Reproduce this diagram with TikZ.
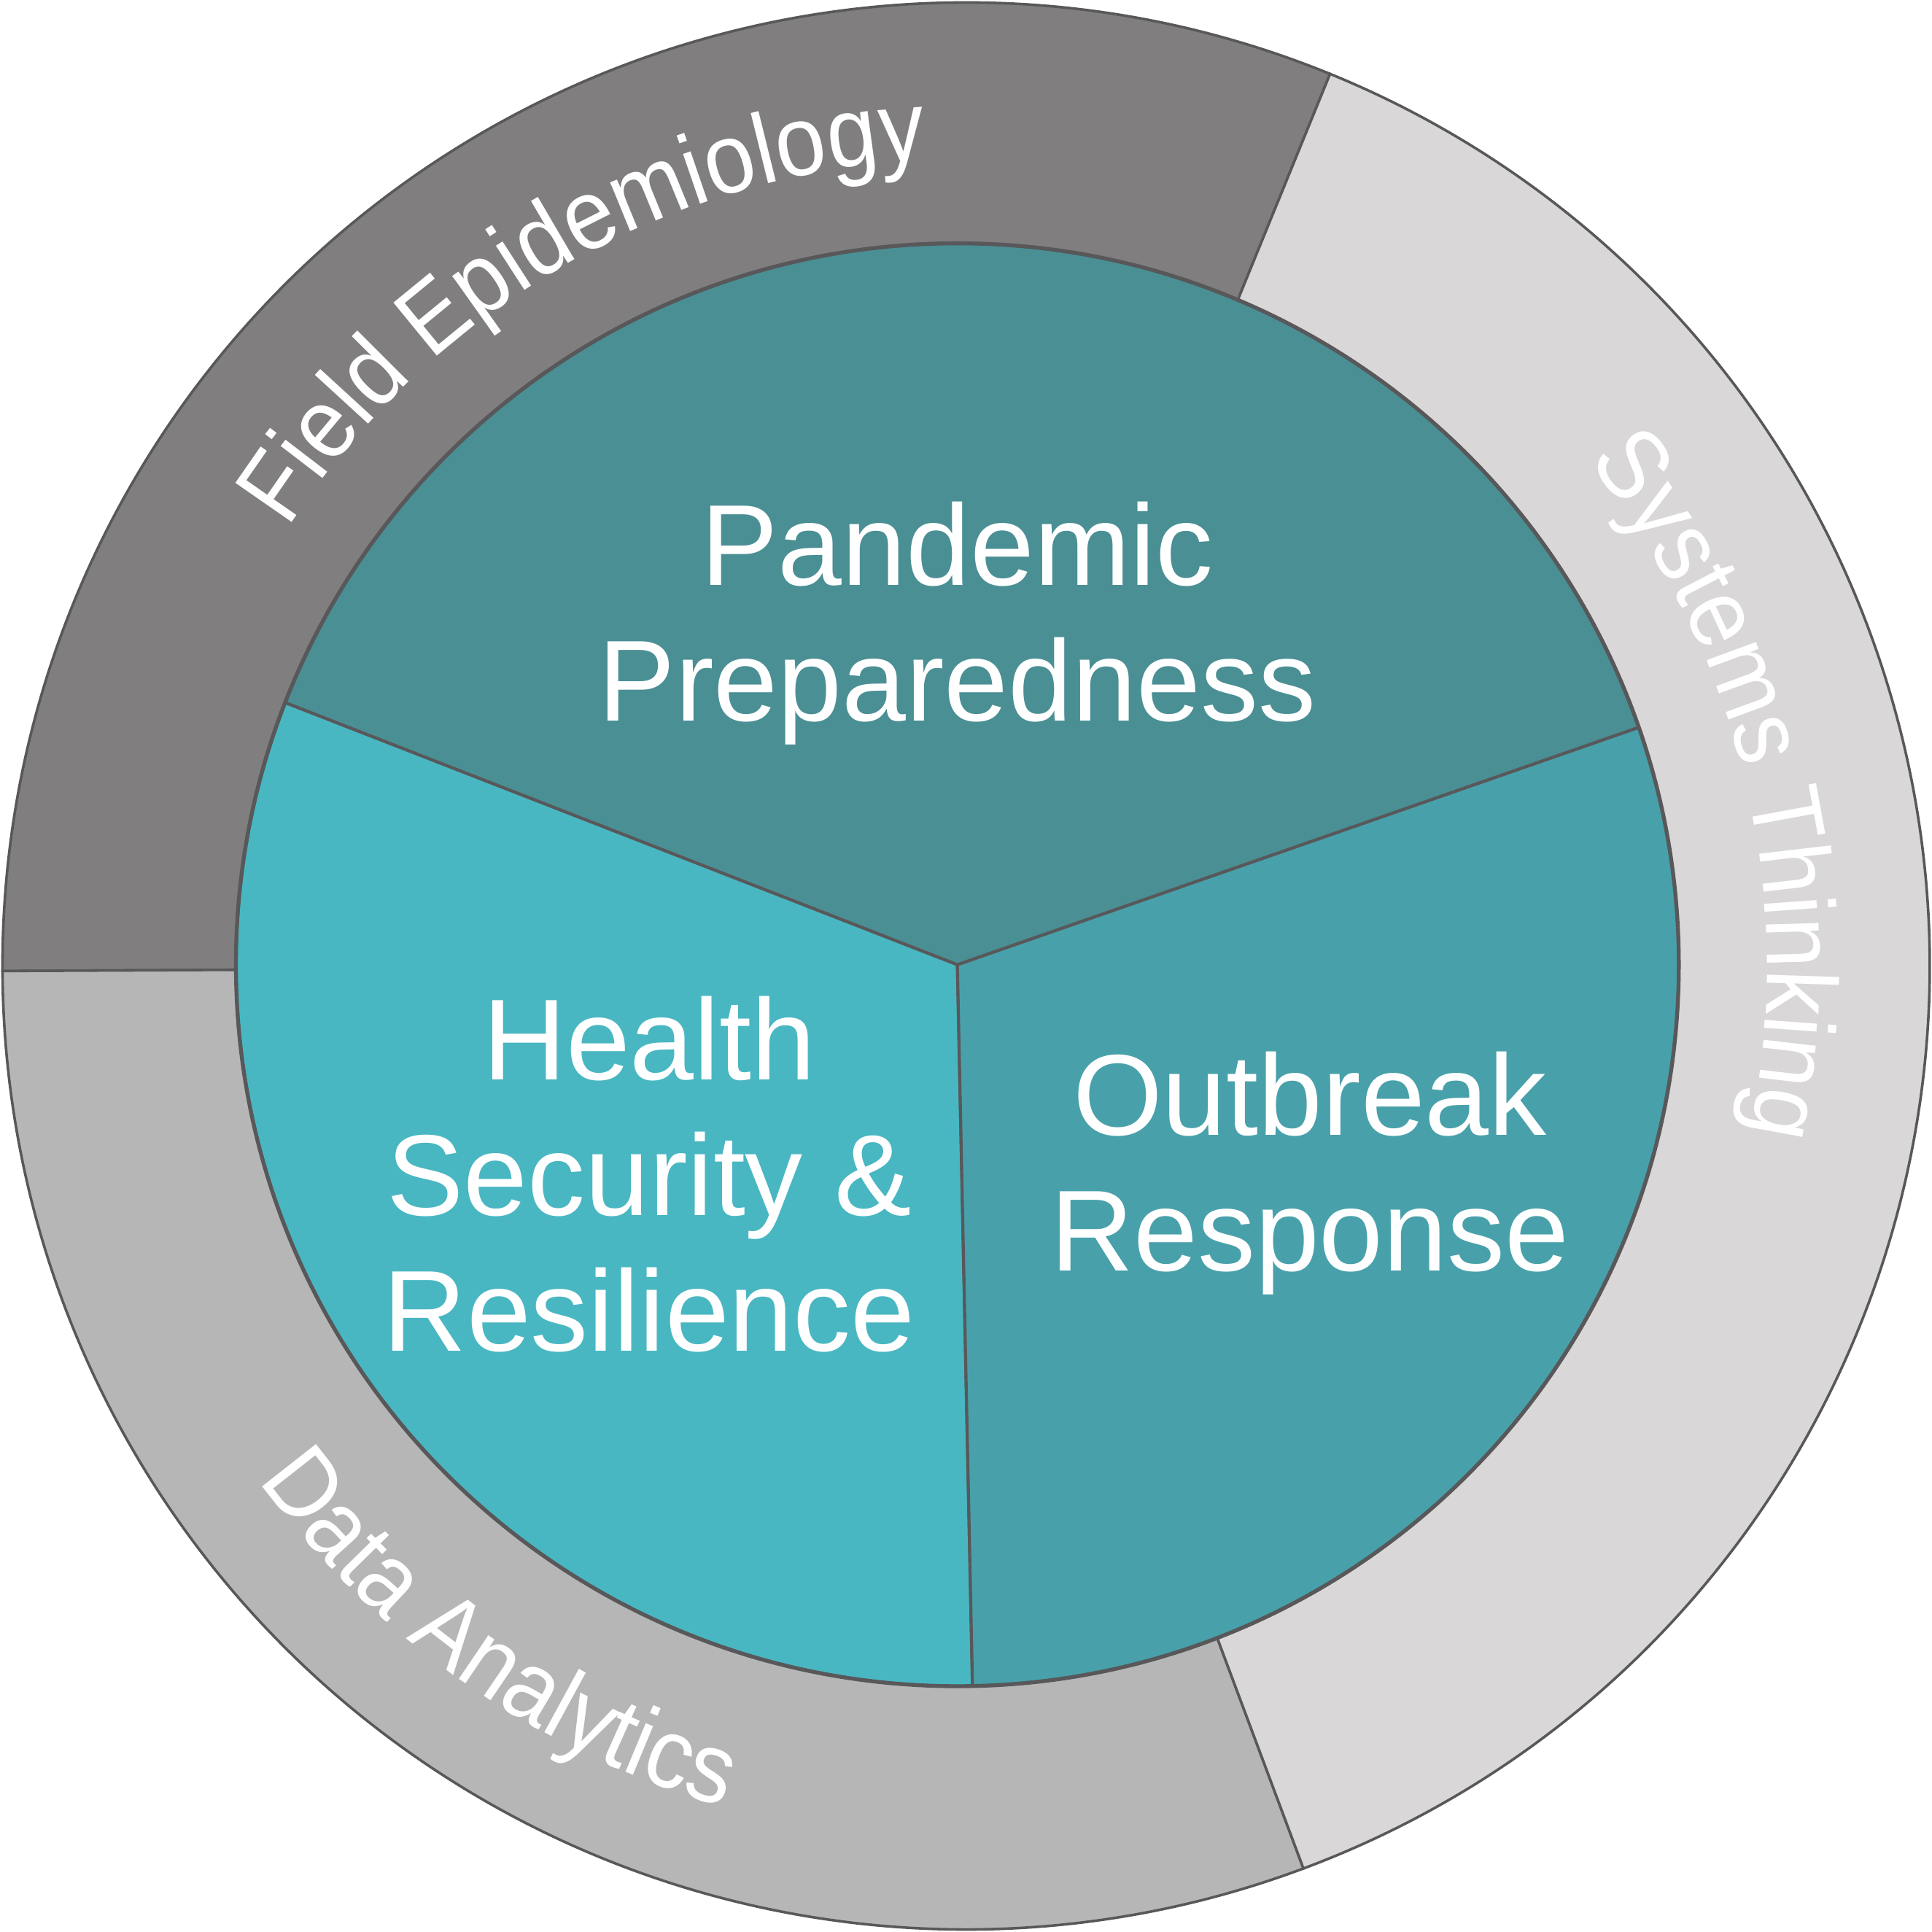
\documentclass[tikz,border=0pt]{standalone}
\usepackage{fontspec}
\setmainfont{Liberation Sans}
\newfontfamily\ringfamily[FakeStretch=0.91]{Liberation Sans}
\usetikzlibrary{decorations.text}
\definecolor{fieldgray}{HTML}{807E7F}
\definecolor{systemsgray}{HTML}{D9D7D8}
\definecolor{datagray}{HTML}{B7B6B7}
\definecolor{pandemic}{HTML}{4A8F94}
\definecolor{outbreak}{HTML}{48A1AA}
\definecolor{health}{HTML}{49B7C2}
\definecolor{linegray}{HTML}{58585A}
\newcommand\ringfont{\ringfamily\fontsize{23}{27}\selectfont}
\tikzset{
    ring/.style = {draw=linegray, line width=0.6pt},
    slice/.style = {draw=linegray, line width=0.7pt},
    rim/.style = {draw=linegray, line width=0.9pt},
    maintext/.style = {text=white, align=center, font=\fontsize{26.6}{31.3}\selectfont},
    ringtext/.style = {decorate, decoration={text along path, text align=center, text color=white, text={|\ringfont|#1}}}
}
\begin{document}
\begin{tikzpicture}
\useasboundingbox (-7.84,-7.84) rectangle (7.84,7.84);
%
\coordinate (hub) at (-0.07,0.01);
%
\filldraw[ring, fill=fieldgray] (0,0) -- (67.8:7.82) arc[start angle=67.8, end angle=180.3, radius=7.82] -- cycle;
\filldraw[ring, fill=datagray] (0,0) -- (180.3:7.82) arc[start angle=180.3, end angle=290.5, radius=7.82] -- cycle;
\filldraw[ring, fill=systemsgray] (0,0) -- (-69.5:7.82) arc[start angle=-69.5, end angle=67.8, radius=7.82] -- cycle;
%
\filldraw[slice, fill=pandemic] (hub) -- ([shift={(19.2:5.855)}]hub) arc[start angle=19.2, end angle=158.7, radius=5.855] -- cycle;
\filldraw[slice, fill=health] (hub) -- ([shift={(158.7:5.855)}]hub) arc[start angle=158.7, end angle=271.2, radius=5.855] -- cycle;
\filldraw[slice, fill=outbreak] (hub) -- ([shift={(-88.8:5.855)}]hub) arc[start angle=-88.8, end angle=19.2, radius=5.855] -- cycle;
\draw[rim] (hub) circle (5.855);
%
\node[maintext] at (-0.07, 2.78) (pandemic) {Pandemic\\Preparedness};
\node[maintext] at (-2.57,-1.69) (health) {Health\\Security \&\\Resilience};
\node[maintext] at (2.79,-1.68) (outbreak) {Outbreak\\Response};
%
\path[ringtext={Field Epidemiology}] (170:6.55) arc[start angle=170, end angle=70, radius=6.55];
\path[ringtext={Systems Thinking}] (63.5:6.5) arc[start angle=63.5, end angle=-36.5, radius=6.5];
\path[ringtext={Data Analytics}] (185:7.1) arc[start angle=185, end angle=285, radius=7.1];

\end{tikzpicture}
\end{document}
